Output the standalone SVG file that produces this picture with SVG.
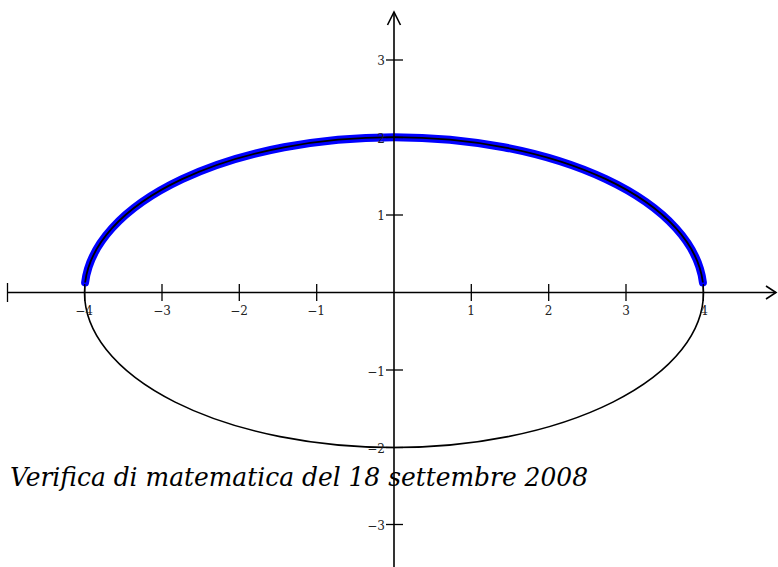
<svg xmlns="http://www.w3.org/2000/svg" width="778" height="567" viewBox="0 0 778 567">
<style>
.ax{stroke:#000;stroke-width:1.6;fill:none}
.tk{stroke:#000;stroke-width:1.3}
.lb{font-family:"DejaVu Serif",serif;font-size:12px;fill:#222}
.lx{text-anchor:middle}
.ly{text-anchor:end}
.tt{font-family:"DejaVu Serif",serif;font-style:italic;font-size:26px;fill:#000}
</style>
<rect width="778" height="567" fill="#fff"/>
<g id="curve">
<ellipse cx="394" cy="292.5" rx="309.5" ry="155" fill="none" stroke="#000" stroke-width="1.6"/>
<path d="M85.1,282.5 A309.5,155 0 0 1 702.9,282.5" fill="none" stroke="#0000ff" stroke-width="8" stroke-linecap="round"/>
<path d="M85.1,282.5 A309.5,155 0 0 1 702.9,282.5" fill="none" stroke="#000" stroke-width="1.8"/>
</g>
<g id="axes">
<line class="ax" x1="7.5" y1="292.5" x2="776" y2="292.5"/>
<line class="tk" x1="7.5" y1="283" x2="7.5" y2="302"/>
<polyline class="ax" points="766,286 776,292.5 766,299"/>
<line class="ax" x1="394" y1="12" x2="394" y2="567"/>
<polyline class="ax" points="387.5,25 394,12 400.5,25"/>
<g class="tk">
<line x1="84.7" y1="284" x2="84.7" y2="301"/>
<line x1="162" y1="284" x2="162" y2="301"/>
<line x1="239.3" y1="284" x2="239.3" y2="301"/>
<line x1="316.7" y1="284" x2="316.7" y2="301"/>
<line x1="471.3" y1="284" x2="471.3" y2="301"/>
<line x1="548.7" y1="284" x2="548.7" y2="301"/>
<line x1="626" y1="284" x2="626" y2="301"/>
<line x1="703.3" y1="284" x2="703.3" y2="301"/>
<line x1="386" y1="60" x2="403" y2="60"/>
<line x1="386" y1="137.5" x2="403" y2="137.5"/>
<line x1="386" y1="215" x2="403" y2="215"/>
<line x1="386" y1="370" x2="403" y2="370"/>
<line x1="386" y1="447.5" x2="403" y2="447.5"/>
<line x1="386" y1="524.5" x2="403" y2="524.5"/>
</g>
</g>
<g id="labels" class="lb">
<text class="lx" x="84" y="315">−4</text>
<text class="lx" x="162" y="315">−3</text>
<text class="lx" x="239" y="315">−2</text>
<text class="lx" x="316" y="315">−1</text>
<text class="lx" x="471" y="315">1</text>
<text class="lx" x="548.5" y="315">2</text>
<text class="lx" x="626" y="315">3</text>
<text class="lx" x="704" y="315">4</text>
<text class="ly" x="385" y="65">3</text>
<text class="ly" x="385" y="143">2</text>
<text class="ly" x="385" y="220">1</text>
<text class="ly" x="385" y="376">−1</text>
<text class="ly" x="385" y="453">−2</text>
<text class="ly" x="385" y="530">−3</text>
</g>
<text id="title" class="tt" x="10" y="485.5" textLength="578" lengthAdjust="spacingAndGlyphs">Verifica di matematica del 18 settembre 2008</text>
</svg>
